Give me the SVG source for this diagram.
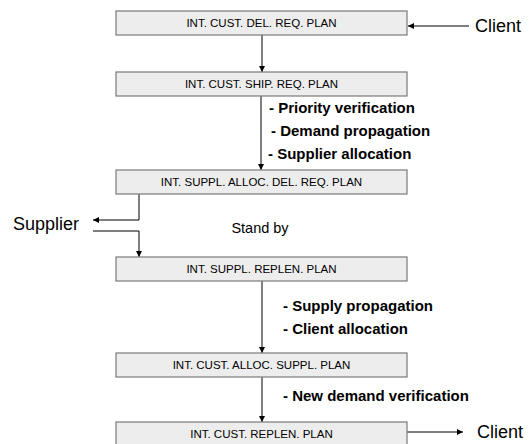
<svg xmlns="http://www.w3.org/2000/svg" width="529" height="444" viewBox="0 0 529 444">
<style>
.box{fill:#ededed;stroke:#7a7a7a;stroke-width:1.2}
.bt{font-family:"Liberation Sans",Arial,sans-serif;font-size:11.5px;fill:#000;text-anchor:middle}
.lbl{font-family:"Liberation Sans",Arial,sans-serif;font-size:15px;font-weight:bold;fill:#000}
.ext{font-family:"Liberation Sans",Arial,sans-serif;font-size:18px;fill:#000}
.sb{font-family:"Liberation Sans",Arial,sans-serif;font-size:14.5px;fill:#000;text-anchor:middle}
.ln{fill:none;stroke:#000;stroke-width:1}
</style>
<defs>
<marker id="ah" viewBox="0 0 6 6" refX="6" refY="3" markerWidth="6" markerHeight="6" markerUnits="userSpaceOnUse" orient="auto">
<path d="M0,0 L6,3 L0,6 Z" fill="#000"/>
</marker>
</defs>
<rect width="529" height="444" fill="#fff"/>
<g id="connectors">
<line class="ln" x1="469" y1="26" x2="408" y2="26" marker-end="url(#ah)"/>
<line class="ln" x1="262" y1="35" x2="262" y2="72" marker-end="url(#ah)"/>
<line class="ln" x1="261" y1="96" x2="261" y2="170" marker-end="url(#ah)"/>
<polyline class="ln" points="139,194 139,220 93,220" marker-end="url(#ah)"/>
<polyline class="ln" points="93,231 139,231 139,257" marker-end="url(#ah)"/>
<line class="ln" x1="262" y1="281" x2="262" y2="353" marker-end="url(#ah)"/>
<line class="ln" x1="262" y1="377" x2="262" y2="422" marker-end="url(#ah)"/>
<line class="ln" x1="407" y1="432" x2="463" y2="432" marker-end="url(#ah)"/>
</g>
<g id="n1"><rect class="box" x="116" y="11" width="291" height="24"/><text class="bt" x="261.5" y="27">INT. CUST. DEL. REQ. PLAN</text></g>
<g id="n2"><rect class="box" x="116" y="72" width="291" height="24"/><text class="bt" x="261.5" y="88">INT. CUST. SHIP. REQ. PLAN</text></g>
<g id="n3"><rect class="box" x="116" y="170" width="291" height="24"/><text class="bt" x="261.5" y="186">INT. SUPPL. ALLOC. DEL. REQ. PLAN</text></g>
<g id="n4"><rect class="box" x="116" y="257" width="291" height="24"/><text class="bt" x="261.5" y="273">INT. SUPPL. REPLEN. PLAN</text></g>
<g id="n5"><rect class="box" x="116" y="353" width="291" height="24"/><text class="bt" x="261.5" y="369">INT. CUST. ALLOC. SUPPL. PLAN</text></g>
<g id="n6"><rect class="box" x="116" y="422" width="291" height="24"/><text class="bt" x="261.5" y="438">INT. CUST. REPLEN. PLAN</text></g>
<g id="client-top"><text class="ext" x="475" y="32">Client</text></g>
<g id="supplier"><text class="ext" x="13" y="230">Supplier</text></g>
<g id="client-bottom"><text class="ext" x="477" y="438">Client</text></g>
<g id="standby"><text class="sb" x="260" y="233">Stand by</text></g>
<g id="labels">
<text class="lbl" x="269" y="113">- Priority verification</text>
<text class="lbl" x="271" y="136">- Demand propagation</text>
<text class="lbl" x="268" y="159">- Supplier allocation</text>
<text class="lbl" x="283" y="311">- Supply propagation</text>
<text class="lbl" x="283" y="334">- Client allocation</text>
<text class="lbl" x="283" y="401">- New demand verification</text>
</g>
</svg>
